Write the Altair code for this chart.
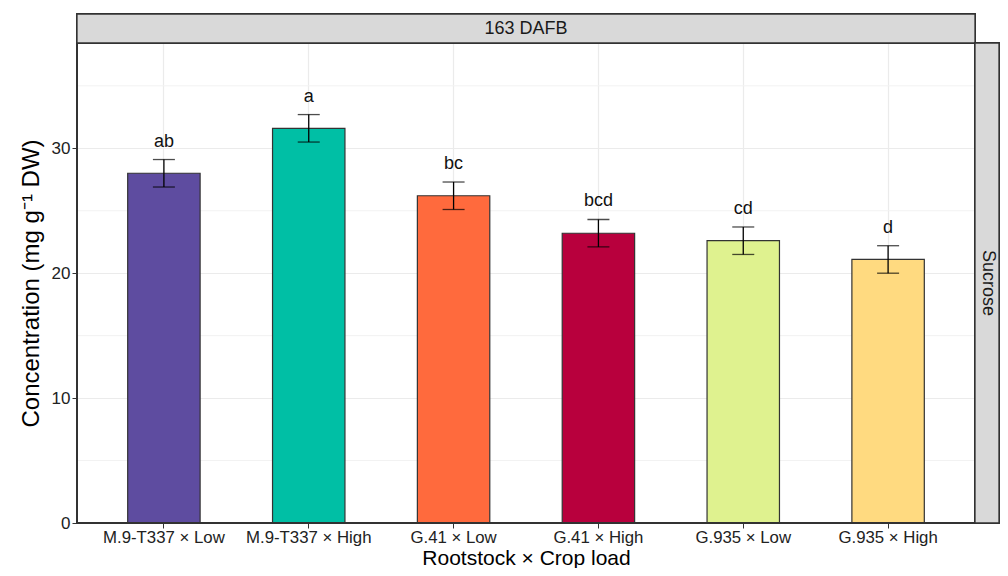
import altair as alt
import pandas as pd

categories = ["M.9-T337 × Low", "M.9-T337 × High", "G.41 × Low", "G.41 × High", "G.935 × Low", "G.935 × High"]
means = [28.0, 31.6, 26.2, 23.2, 22.6, 21.1]
errors = [1.1, 1.1, 1.1, 1.1, 1.1, 1.1]
letters = ["ab", "a", "bc", "bcd", "cd", "d"]
colors = ["#5E4CA0", "#00BFA5", "#FF6A3D", "#B8003D", "#DFF28F", "#FFDA80"]
minor_grid = [5, 15, 25, 35]
major_ticks = [0, 10, 20, 30]

df = pd.DataFrame({
    "cat": categories,
    "mean": means,
    "lo": [m - e for m, e in zip(means, errors)],
    "hi": [m + e for m, e in zip(means, errors)],
    "letter": letters,
})
minor_df = pd.DataFrame({"v": minor_grid})

W, H = 898, 480
STRIP = 25
FONT = "Liberation Sans"
YMAX = 38.43

xenc = alt.X("cat:N", sort=categories,
             scale=alt.Scale(paddingInner=0.5, paddingOuter=0.35),
             axis=alt.Axis(title="Rootstock × Crop load", labelAngle=0, labelFontSize=16.8,
                           labelColor="#222222", titleFontSize=21, titleFontWeight="normal",
                           titleColor="#000000", titlePadding=2, tickColor="#333333", tickSize=5,
                           domain=False, grid=True, gridColor="#EBEBEB", gridWidth=1.2,
                           labelPadding=1))
yscale = alt.Scale(domain=[0, YMAX], nice=False, zero=True)
yaxis = alt.Axis(title="Concentration (mg  g⁻¹ DW)", values=major_ticks, labelFontSize=17,
                 labelColor="#222222", titleFontSize=24, titleFontWeight="normal",
                 titleColor="#000000", titlePadding=8, tickColor="#333333", tickSize=5,
                 domain=False, grid=True, gridColor="#EBEBEB", gridWidth=1.2, labelPadding=2)

base = alt.Chart(df)

minor = alt.Chart(minor_df).mark_rule(color="#F2F2F2", strokeWidth=1).encode(
    y=alt.Y("v:Q", scale=yscale, axis=yaxis)
)

bars = base.mark_bar(stroke="#333333", strokeWidth=1.2).encode(
    x=xenc,
    y=alt.Y("mean:Q", scale=yscale, axis=yaxis),
    color=alt.Color("cat:N", sort=categories,
                    scale=alt.Scale(domain=categories, range=colors), legend=None),
)

err_v = base.mark_rule(color="#000000", strokeWidth=1.3).encode(
    x=alt.X("cat:N", sort=categories), y="lo:Q", y2="hi:Q"
)
err_top = base.mark_tick(color="#000000", thickness=1.3, size=22, orient="horizontal").encode(
    x=alt.X("cat:N", sort=categories), y="hi:Q"
)
err_bot = base.mark_tick(color="#000000", thickness=1.3, size=22, orient="horizontal").encode(
    x=alt.X("cat:N", sort=categories), y="lo:Q"
)
labels = base.mark_text(baseline="alphabetic", dy=-13, fontSize=18, font=FONT, color="#111111").encode(
    x=alt.X("cat:N", sort=categories), y="hi:Q", text="letter:N"
)

# panel border
border = alt.Chart(df).mark_rect(fill=None, stroke="#333333", strokeWidth=1.3, clip=False).encode(
    x=alt.value(0), x2=alt.value(W), y=alt.value(0), y2=alt.value(H)
)
# top strip
top_strip = alt.Chart(df).mark_rect(fill="#D9D9D9", stroke="#333333", strokeWidth=1.3, clip=False).encode(
    x=alt.value(0), x2=alt.value(W), y=alt.value(-29), y2=alt.value(0)
)
top_text = alt.Chart(pd.DataFrame({"t": ["163 DAFB"]})).mark_text(
    fontSize=18, font=FONT, color="#1A1A1A", baseline="middle", clip=False
).encode(x=alt.value(W / 2), y=alt.value(-14), text="t:N")
right_strip = alt.Chart(df).mark_rect(fill="#D9D9D9", stroke="#333333", strokeWidth=1.3, clip=False).encode(
    x=alt.value(W), x2=alt.value(W + STRIP - 1), y=alt.value(0), y2=alt.value(H)
)
right_text = alt.Chart(pd.DataFrame({"t": ["Sucrose"]})).mark_text(
    fontSize=18, font=FONT, color="#1A1A1A", baseline="middle", angle=90, clip=False
).encode(x=alt.value(W + STRIP / 2), y=alt.value(H / 2), text="t:N")

chart = alt.layer(
    minor, bars, err_v, err_top, err_bot, labels, border, top_strip, top_text, right_strip, right_text
).properties(
    width=W, height=H,
    autosize=alt.AutoSizeParams(type="none"),
    padding={"left": 69, "top": 35, "right": STRIP, "bottom": 45},
).configure_view(stroke=None).configure(font=FONT)

chart.save("out.html", embed_options={"renderer": "svg", "actions": False})
